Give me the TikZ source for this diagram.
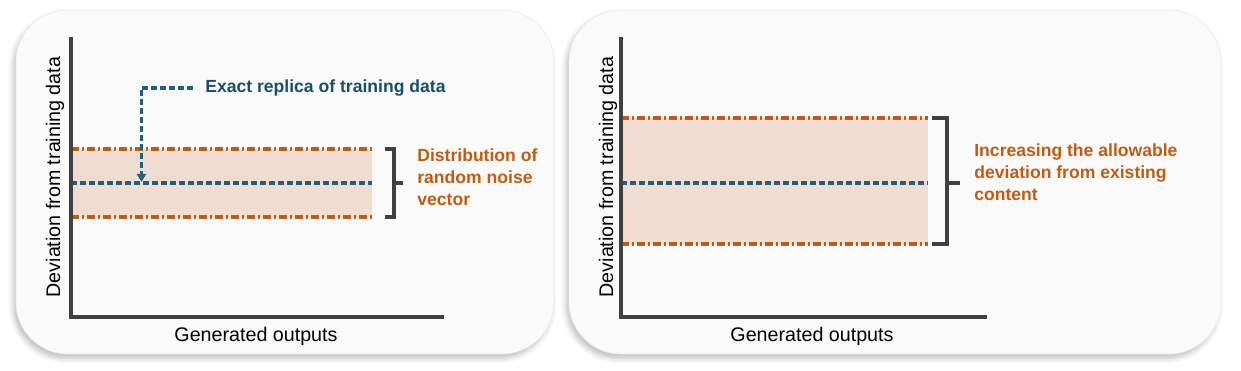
\documentclass[tikz,border=0pt]{standalone}
\usepackage{fontspec}
\setmainfont{Liberation Sans}
\usepackage{xcolor}
\usepackage{tikz}
\usetikzlibrary{arrows.meta,positioning,calc,shadows.blur}

\definecolor{naranja}{RGB}{197,90,17}
\definecolor{banda}{RGB}{240,221,210}
\definecolor{azul}{RGB}{31,96,126}
\definecolor{azultxt}{RGB}{26,78,105}
\definecolor{eje}{RGB}{64,64,64}
\definecolor{fondo}{RGB}{250,250,250}

\begin{document}
\begin{tikzpicture}[
    % ---------- estilos ----------
    panel/.style={fill=fondo, draw=gray!15, line width=0.4pt, rounded corners=1.04cm,
      blur shadow={shadow xshift=-1.5pt, shadow yshift=-2.5pt,
        shadow blur radius=3pt, shadow opacity=25}},
    axis/.style={draw=eje, line width=1.9pt},
    band/.style={fill=banda, draw=none},
    bandedge/.style={draw=naranja, line width=2pt,
      dash pattern=on 0.16cm off 0.06cm on 0.04cm off 0.06cm},
    mid/.style={draw=azul, line width=1.8pt, dash pattern=on 0.12cm off 0.06cm},
    brk/.style={draw=eje, line width=1.8pt},
    axlbl/.style={font=\fontsize{11.2}{13}\selectfont, text=black, inner sep=0pt},
    note/.style={font=\fontsize{10}{12.5}\selectfont\bfseries, text=naranja,
      align=left, inner sep=0pt, anchor=west},
    arr/.style={-{Triangle[length=1.6mm, width=1.8mm]}, draw=azul,
      line width=1.8pt, dash pattern=on 0.12cm off 0.06cm}
]

\useasboundingbox (0,0) rectangle (24.82,7.42);

% ====== Paneles ======
\path[panel] (0.32,0.34) rectangle (11.08,7.22);
\path[panel] (11.38,0.34) rectangle (24.42,7.22);

% ====== Panel izquierdo ======
\fill[band] (1.42,3.08) rectangle (7.44,4.44);
\draw[bandedge] (1.42,4.44) -- (7.44,4.44);
\draw[bandedge] (1.42,3.08) -- (7.44,3.08);
\draw[mid] (1.42,3.76) -- (7.44,3.76);
\draw[axis] (1.42,6.68) -- (1.42,1.08) -- (8.88,1.08);

\draw[brk] (7.70,4.44) -- (7.88,4.44) -- (7.88,3.08) -- (7.70,3.08);
\draw[brk] (7.88,3.76) -- (8.06,3.76);
\node[note] (noiseL) at (8.34,3.88) {Distribution of\\random noise\\vector};

\node[font=\fontsize{10}{12.5}\selectfont\bfseries, text=azultxt, inner sep=0pt,
      anchor=west] (replica) at (4.10,5.66) {Exact replica of training data};
\coordinate (hit) at (2.83,3.78);
\draw[arr, shorten <=0.24cm] (replica.west) -| (hit);

\node[axlbl, rotate=90, anchor=base] (yL) at (1.20,3.88) {Deviation from training data};
\node[axlbl, anchor=base] (xL) at (5.12,0.58) {Generated outputs};

% ====== Panel derecho ======
\fill[band] (12.42,2.54) rectangle (18.56,5.06);
\draw[bandedge] (12.42,5.06) -- (18.56,5.06);
\draw[bandedge] (12.42,2.54) -- (18.56,2.54);
\draw[mid] (12.42,3.76) -- (18.56,3.76);
\draw[axis] (12.42,6.68) -- (12.42,1.08) -- (19.74,1.08);

\draw[brk] (18.64,5.06) -- (18.94,5.06) -- (18.94,2.54) -- (18.64,2.54);
\draw[brk] (18.94,3.76) -- (19.20,3.76);
\node[note] (noiseR) at (19.48,3.98) {Increasing the allowable\\deviation from existing\\content};

\node[axlbl, rotate=90, anchor=base] (yR) at (12.26,3.88) {Deviation from training data};
\node[axlbl, anchor=base] (xR) at (16.24,0.58) {Generated outputs};

\end{tikzpicture}
\end{document}
